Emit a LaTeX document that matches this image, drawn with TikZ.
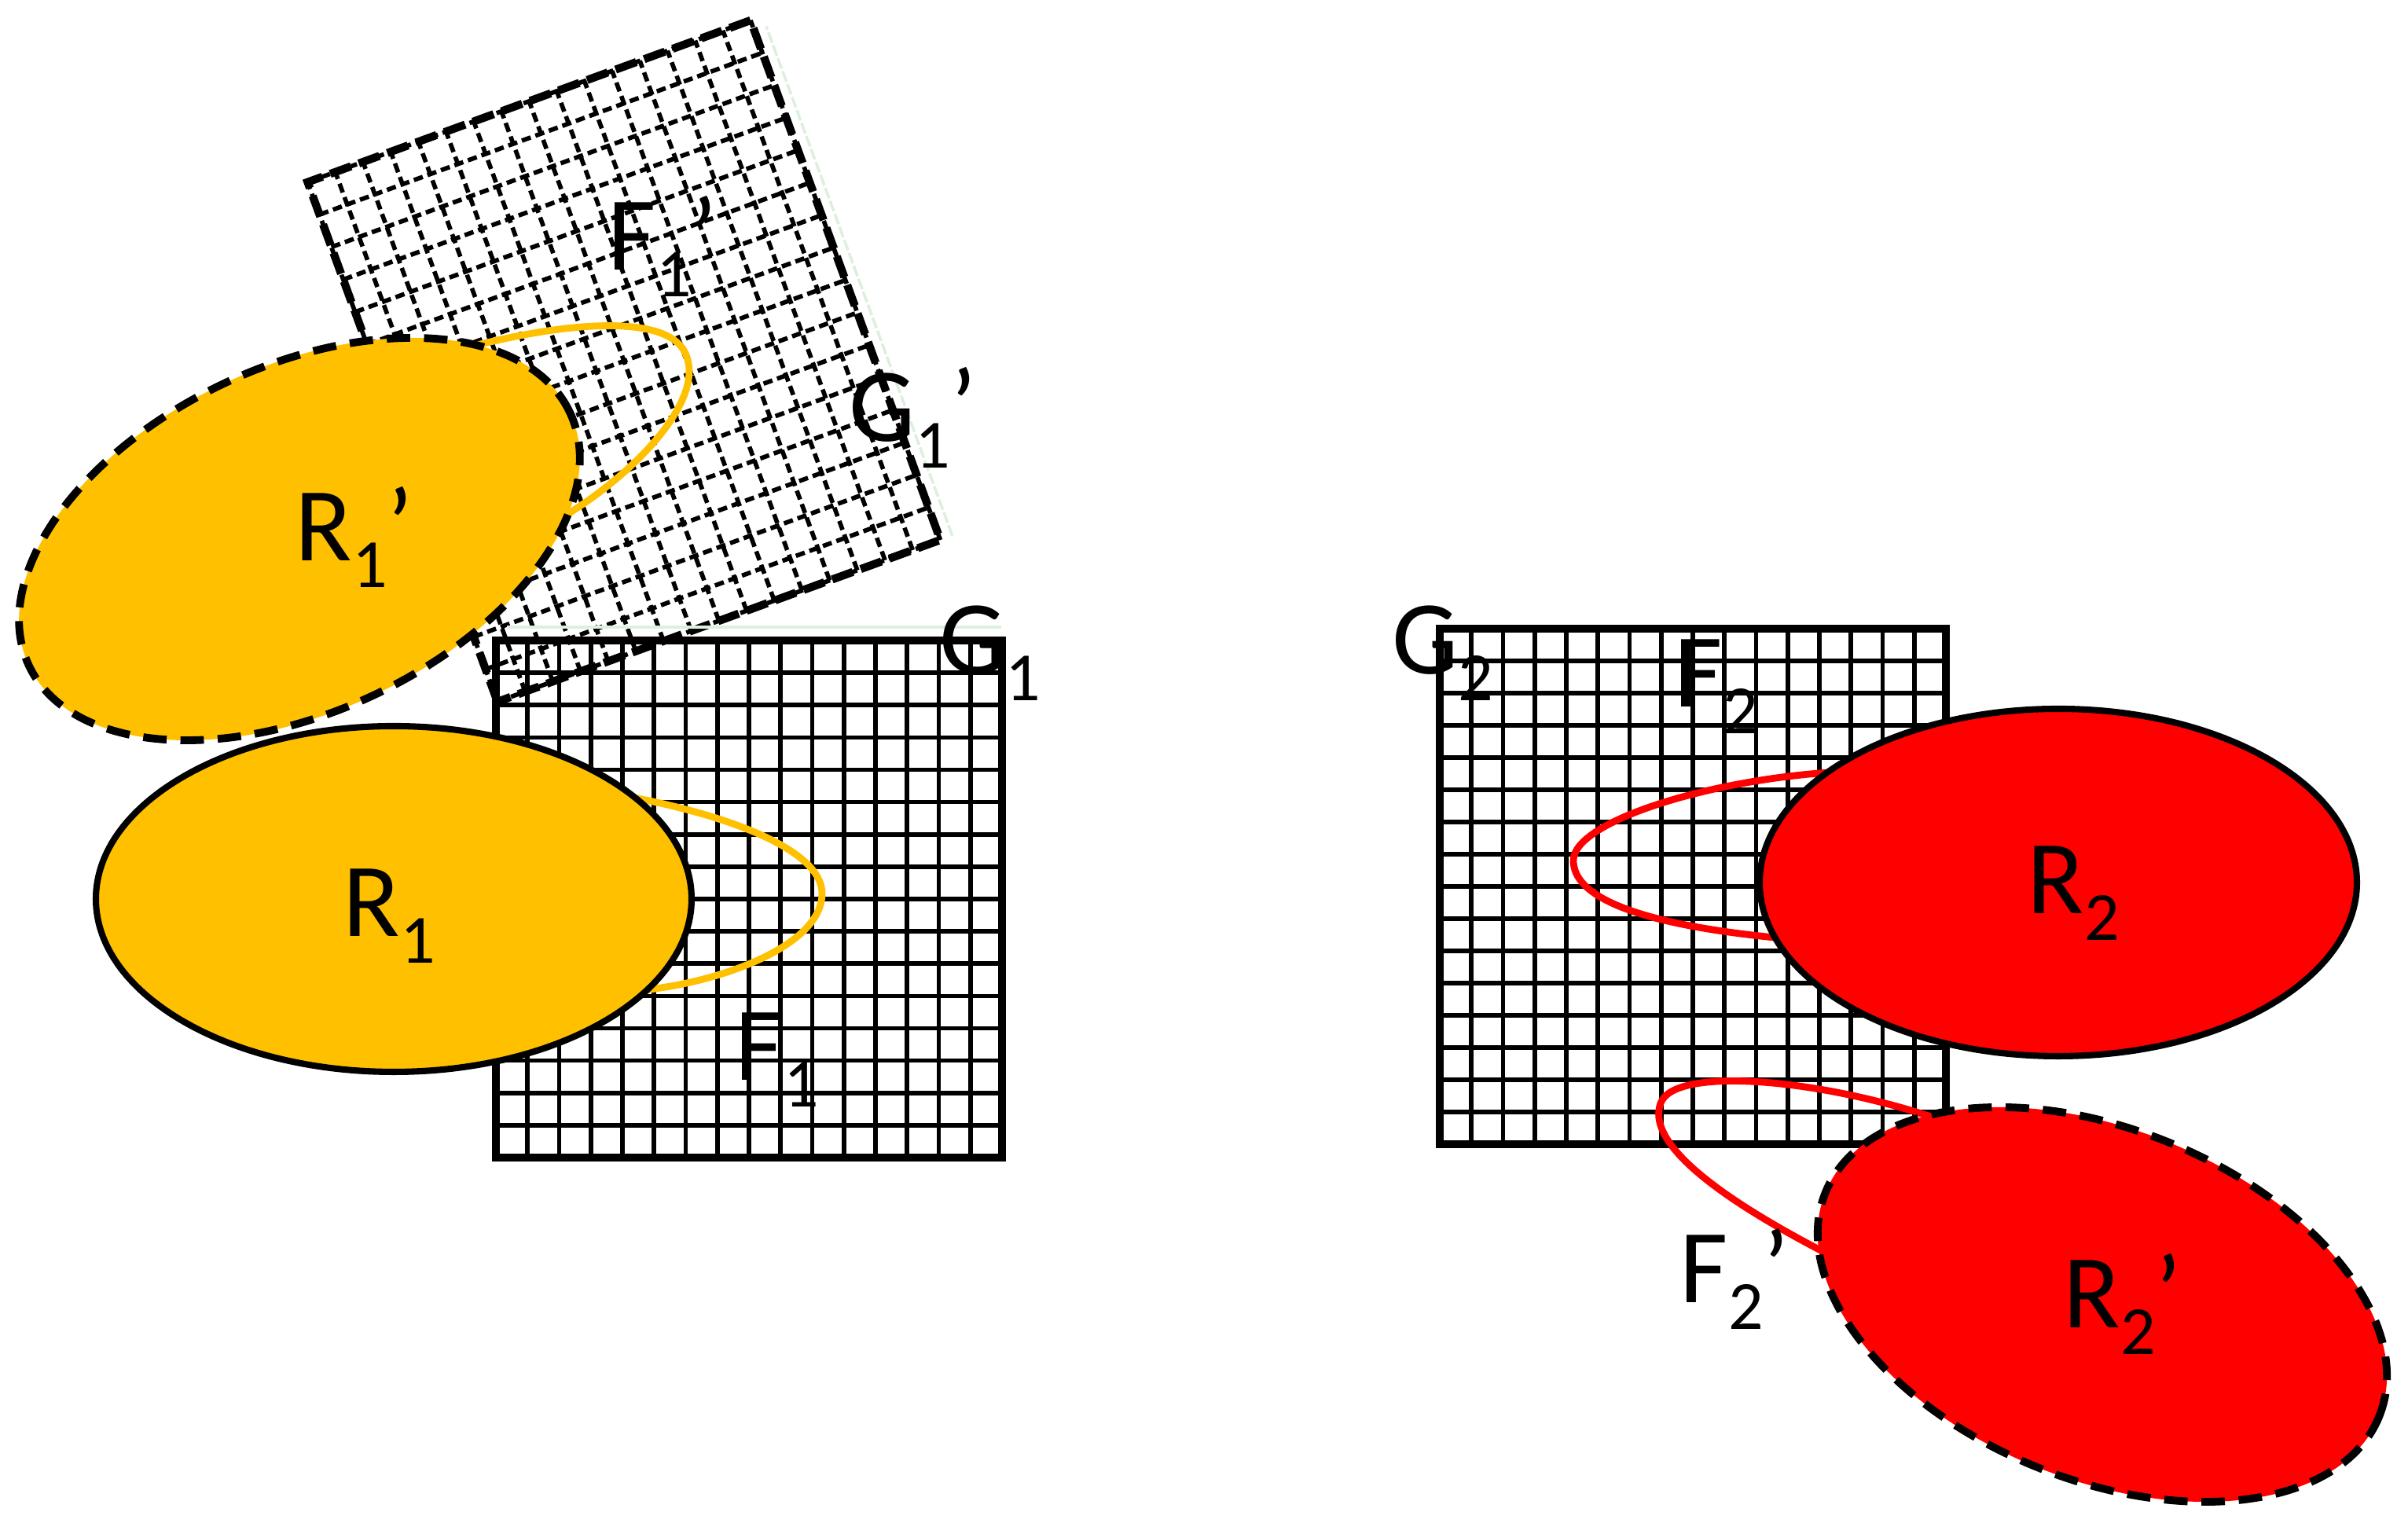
\documentclass[tikz,border=0pt]{standalone}
\usepackage{fontspec}
\setmainfont{Carlito}
\definecolor{amber}{HTML}{FFC000}
\definecolor{scarlet}{HTML}{FF0000}
\definecolor{paleg}{HTML}{DDEFDD}
\newcommand{\idx}[2]{#1\raisebox{-9.4pt}{\fontsize{25}{25}\selectfont #2}}
\newcommand{\amberloop}{(2.89,1.32) .. controls (4.19,1.09) and (5.45,0.64) .. (5.45,0.07)
  .. controls (5.45,-0.56) and (4.29,-1.01) .. (3.33,-1.14) -- (3.09,-1.18)}
\newcommand{\scarletloop}{(-2.74,1.41) .. controls (-4.39,1.33) and (-6.17,0.78) .. (-6.17,0.28)
  .. controls (-6.17,-0.37) and (-4.59,-0.62) .. (-3.29,-0.73)}

\begin{document}
\begin{tikzpicture}[line join=miter]
  \tikzstyle{fine}=[line width=1.6pt]
  \tikzstyle{frame}=[line width=2.9pt]
  \tikzstyle{finedash}=[line width=1.6pt,dash pattern=on 3.4pt off 1.8pt]
  \tikzstyle{framedash}=[line width=2.9pt,dash pattern=on 8pt off 3pt]
  \tikzstyle{region}=[draw=black,line width=2.3pt]
  \tikzstyle{regiondash}=[draw=black,line width=2.8pt,dash pattern=on 8.5pt off 5pt]
  \tikzstyle{trace}=[line width=2.5pt]
  \tikzstyle{lbl}=[inner sep=0pt,anchor=base west,font=\fontsize{38}{40}\selectfont]

  \useasboundingbox (0,0) rectangle (30.64,19.38);

  % grids
  \begin{scope}[shift={(6.31,4.65)},xscale=6.44/16,yscale=6.58/16]
    \draw[fine] (0,0) grid (16,16);
    \draw[frame] (0,0) rectangle (16,16);
  \end{scope}
  \begin{scope}[shift={(18.32,4.82)},xscale=6.44/16,yscale=6.56/16]
    \draw[fine] (0,0) grid (16,16);
    \draw[frame] (0,0) rectangle (16,16);
  \end{scope}
  \begin{scope}[shift={(6.33,10.45)},rotate=20.07,xscale=6.00/16,yscale=7.04/16]
    \draw[finedash] (0,0) grid (16,16);
    \draw[framedash] (0,0) rectangle (16,16);
    \draw[paleg,line width=1pt,dash pattern=on 4pt off 1pt] (16.43,0) -- (16.43,15.68);
  \end{scope}
  \draw[paleg,line width=1pt] (6.45,11.40) -- (12.74,11.40);

  % regions
  \begin{scope}[shift={(5.01,7.94)}]
    \draw[amber,trace] \amberloop;
    \draw[region,fill=amber] (0,0) ellipse (3.79 and 2.20);
  \end{scope}
  \begin{scope}[shift={(3.81,12.52)},rotate=25]
    \draw[amber,trace] \amberloop;
    \draw[regiondash,fill=amber] (0,0) ellipse (3.80 and 2.20);
  \end{scope}
  \begin{scope}[shift={(26.19,8.15)}]
    \draw[scarlet,trace] \scarletloop;
    \draw[region,fill=scarlet] (0,0) ellipse (3.80 and 2.21);
  \end{scope}
  \begin{scope}[shift={(26.75,2.78)},rotate=-22]
    \draw[scarlet,trace] \scarletloop;
    \draw[regiondash,fill=scarlet] (0,0) ellipse (3.80 and 2.23);
  \end{scope}

  % labels
  \node[lbl] (f1p) at (7.73,15.94) {\idx{F}{1}’};
  \node[lbl] (g1p) at (10.80,13.76) {\idx{G}{1}’};
  \node[lbl] (r1p) at (3.75,12.24) {\idx{R}{1}’};
  \node[lbl] (g1) at (11.95,10.80) {\idx{G}{1}};
  \node[lbl] (r1) at (4.36,7.46) {\idx{R}{1}};
  \node[lbl] (f1) at (9.35,5.63) {\idx{F}{1}};
  \node[lbl] (g2) at (17.71,10.80) {\idx{G}{2}};
  \node[lbl] (f2) at (21.30,10.38) {\idx{F}{2}};
  \node[lbl] (r2) at (25.79,7.75) {\idx{R}{2}};
  \node[lbl] (f2p) at (21.37,2.80) {\idx{F}{2}’};
  \node[lbl] (r2p) at (26.25,2.48) {\idx{R}{2}’};
\end{tikzpicture}
\end{document}
